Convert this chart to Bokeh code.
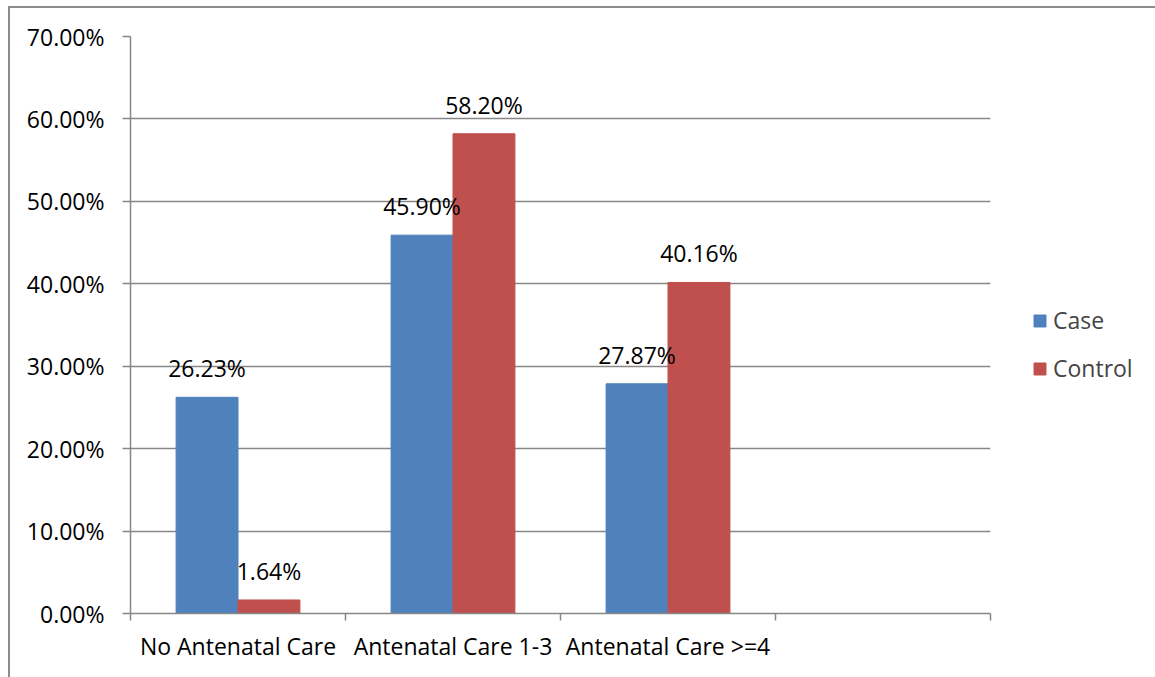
from bokeh.plotting import figure
from bokeh.models import (ColumnDataSource, FixedTicker, NumeralTickFormatter,
                          Range1d, Legend, LegendItem, LabelSet)
from bokeh.core.properties import value
from bokeh.transform import dodge
from bokeh.embed import file_html
from bokeh.resources import INLINE

categories = ["No Antenatal Care", "Antenatal Care 1-3", "Antenatal Care >=4"]
case_values = [0.2623, 0.4590, 0.2787]
control_values = [0.0164, 0.5820, 0.4016]
series_names = ["Case", "Control"]
y_ticks = [0.0, 0.1, 0.2, 0.3, 0.4, 0.5, 0.6, 0.7]

FONT = "Open Sans"
FS = "23px"
GRID = "#878787"
CASE_C = "#4F81BD"
CTRL_C = "#C0504D"

n_slots = len(categories) + 1  # Excel axis leaves one empty slot
centers = [i + 0.5 for i in range(len(categories))]

src = ColumnDataSource(dict(
    x=centers,
    case=case_values,
    control=control_values,
    case_lbl=[f"{v*100:.2f}%" for v in case_values],
    control_lbl=[f"{v*100:.2f}%" for v in control_values],
))

p = figure(frame_width=860, frame_height=577,
           min_border_left=120, min_border_right=165,
           min_border_top=28, min_border_bottom=64,
           x_range=Range1d(0, n_slots), y_range=Range1d(0, 0.7),
           output_backend="svg", toolbar_location=None,
           background_fill_color="white", border_fill_color="white")
p.styles = {"margin-left": "8px", "margin-top": "6px",
            "border-left": "2px solid #8c8c8c", "border-top": "2px solid #8c8c8c"}
p.outline_line_color = None

bw = 0.288
r_case = p.vbar(x=dodge("x", -bw / 2, range=p.x_range), top="case", width=bw,
                source=src, fill_color=CASE_C, line_color=CASE_C)
r_ctrl = p.vbar(x=dodge("x", bw / 2, range=p.x_range), top="control", width=bw,
                source=src, fill_color=CTRL_C, line_color=CTRL_C)

for col, lbl, off in (("case", "case_lbl", -bw / 2), ("control", "control_lbl", bw / 2)):
    ls = LabelSet(x=dodge("x", off, range=p.x_range), y=col, text=lbl, source=src,
                  text_align="center", text_baseline="alphabetic", y_offset=20,
                  text_font=value(FONT), text_font_size=value(FS), text_color="black")
    p.add_layout(ls)

# x axis: category labels at centers, ticks at slot boundaries
p.xaxis.ticker = FixedTicker(ticks=centers, minor_ticks=list(range(n_slots + 1)))
p.xaxis.major_label_overrides = {c: name for c, name in zip(centers, categories)}
p.xaxis.major_tick_out = 0
p.xaxis.major_tick_in = 0
p.xaxis.minor_tick_out = 7
p.xaxis.minor_tick_in = 0
p.xaxis.minor_tick_line_color = GRID
p.xaxis.minor_tick_line_width = 1.5
p.xaxis.axis_line_color = GRID
p.xaxis.axis_line_width = 1.5
p.xaxis.major_label_standoff = 9
p.xaxis.major_label_text_font = FONT
p.xaxis.major_label_text_font_size = FS
p.xaxis.major_label_text_color = "black"

p.yaxis.ticker = FixedTicker(ticks=y_ticks)
p.yaxis.formatter = NumeralTickFormatter(format="0.00%")
p.yaxis.major_tick_out = 8
p.yaxis.major_tick_in = 0
p.yaxis.minor_tick_line_color = None
p.yaxis.major_tick_line_color = GRID
p.yaxis.major_tick_line_width = 1.5
p.yaxis.axis_line_color = GRID
p.yaxis.axis_line_width = 1.5
p.yaxis.major_label_standoff = 18
p.yaxis.major_label_text_font = FONT
p.yaxis.major_label_text_font_size = FS
p.yaxis.major_label_text_color = "black"

p.xgrid.grid_line_color = None
p.ygrid.ticker = FixedTicker(ticks=y_ticks)
p.ygrid.grid_line_color = GRID
p.ygrid.grid_line_width = 1.5

legend = Legend(items=[LegendItem(label=series_names[0], renderers=[r_case]),
                       LegendItem(label=series_names[1], renderers=[r_ctrl])],
                location=(42, 229), orientation="vertical",
                glyph_width=15, glyph_height=15, label_height=20,
                label_standoff=6, spacing=16, padding=0, margin=0,
                border_line_color=None, background_fill_alpha=0,
                label_text_font=FONT, label_text_font_size=FS,
                label_text_baseline="middle")
p.add_layout(legend, "right")

open("out.html", "w").write(file_html(p, INLINE))
